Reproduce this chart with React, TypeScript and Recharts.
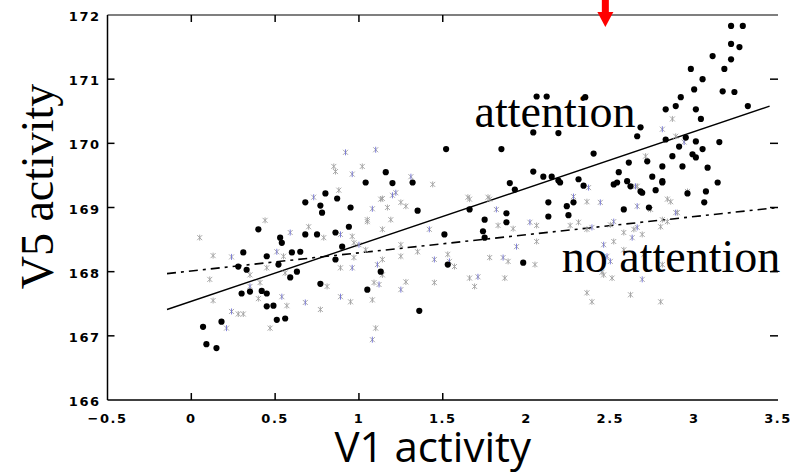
import React from 'react';
import {
  ScatterChart,
  Scatter,
  XAxis,
  YAxis,
  ReferenceLine,
  ReferenceDot,
} from 'recharts';

// ---- data ----
const xTicks = [-0.5, 0, 0.5, 1, 1.5, 2, 2.5, 3, 3.5];
const xTickLabels = ['\u22120.5', '0', '0.5', '1', '1.5', '2', '2.5', '3', '3.5'];
const yTicks = [166, 167, 168, 169, 170, 171, 172];
const xInnerTicks = [0, 0.5, 1, 1.5];
const yInnerTicks = [167, 168, 169, 170, 171];

const attentionPts: [number, number][] = [
  [0.07, 167.14], [0.09, 166.87], [0.15, 166.81], [0.18, 167.22], [0.31, 168.3], [0.3, 167.66],
  [0.35, 167.69], [0.42, 167.7], [0.45, 167.66], [0.45, 167.46], [0.49, 167.47], [0.51, 167.25],
  [0.56, 167.27], [0.45, 168.24], [0.52, 168.11], [0.54, 168.45], [0.6, 168.3], [0.65, 168.31],
  [0.63, 168.0], [0.59, 167.91], [0.28, 168.08], [0.33, 168.03], [0.77, 167.81], [0.9, 168.39],
  [0.86, 168.19], [1.05, 167.72], [0.4, 168.66], [0.53, 168.53], [0.68, 169.08], [0.68, 168.58],
  [0.75, 168.58], [0.77, 169.03], [0.78, 168.92], [0.8, 169.22], [0.87, 169.14], [0.86, 168.61],
  [0.95, 169.0], [0.94, 168.7], [1.04, 169.39], [1.16, 169.55], [1.2, 169.38], [1.52, 169.91],
  [1.85, 169.91], [1.32, 169.39], [1.35, 168.95], [1.66, 168.97], [1.75, 168.81], [1.74, 168.63],
  [1.88, 168.91], [1.88, 168.77], [1.9, 169.38], [1.93, 169.28], [2.04, 169.56], [2.1, 169.48],
  [2.15, 169.48], [2.19, 169.42], [2.2, 169.39], [2.13, 169.08], [2.13, 168.86], [2.24, 169.02],
  [2.25, 168.88], [2.28, 169.08], [2.31, 169.44], [2.34, 169.34], [2.04, 170.17], [2.19, 170.16],
  [1.75, 168.53], [1.51, 168.58], [2.4, 169.84], [2.61, 169.7], [2.55, 169.55], [2.66, 170.11],
  [2.83, 170.06], [2.72, 169.72], [2.81, 169.64], [2.87, 169.8], [2.75, 169.48], [2.81, 169.41],
  [2.77, 169.27], [2.68, 169.25], [2.93, 169.64], [2.99, 169.83], [3.01, 169.78], [3.01, 170.03],
  [3.08, 169.62], [3.07, 169.25], [3.06, 169.08], [3.14, 169.39], [3.15, 170.02], [2.96, 169.22],
  [2.62, 169.33], [2.58, 168.97], [2.73, 169.0], [2.54, 169.39], [2.83, 170.53], [2.89, 170.58],
  [2.92, 170.72], [3.01, 170.53], [3.04, 170.38], [3.0, 170.84], [3.05, 171.0], [2.98, 171.16],
  [3.11, 171.36], [3.18, 171.16], [3.22, 171.31], [3.22, 171.55], [3.27, 171.5], [3.22, 171.83],
  [3.29, 171.83], [3.17, 170.81], [3.24, 170.8], [3.32, 170.58], [2.95, 170.09], [2.91, 169.95],
  [2.52, 169.36], [2.6, 169.41], [2.69, 169.23], [2.81, 169.39], [3.05, 169.91], [1.36, 167.39],
  [1.53, 168.11], [1.98, 168.14], [1.13, 168.0], [2.06, 170.73], [2.12, 170.73], [2.35, 170.72],
  [2.68, 170.25],
];

const noAttentionPts: [number, number][] = [
  [0.92, 169.86], [0.85, 169.64], [0.86, 169.56], [0.96, 169.52], [1.02, 169.64], [0.88, 169.27],
  [0.73, 169.16], [0.44, 168.8], [0.05, 168.53], [0.59, 168.61], [0.7, 168.7], [0.79, 168.53],
  [0.89, 168.58], [0.96, 168.55], [1.05, 168.81], [1.1, 169.9], [1.13, 169.13], [1.17, 169.0],
  [1.22, 169.23], [1.05, 168.78], [0.13, 168.25], [0.24, 168.23], [0.11, 167.88], [0.13, 167.55],
  [0.24, 167.38], [0.28, 167.34], [0.31, 167.34], [0.21, 167.12], [0.47, 167.12], [0.35, 167.95],
  [0.35, 167.77], [0.41, 167.83], [0.4, 167.58], [0.51, 168.31], [0.55, 168.24], [0.45, 168.06],
  [0.54, 167.61], [0.57, 167.47], [0.56, 167.98], [0.68, 167.52], [0.77, 167.41], [0.81, 167.77],
  [0.89, 167.61], [0.95, 167.53], [0.89, 168.06], [0.96, 168.06], [0.97, 168.22], [0.97, 168.45],
  [1.0, 168.42], [1.04, 168.34], [1.14, 168.19], [1.11, 168.11], [1.14, 167.95], [1.09, 167.83],
  [1.12, 167.8], [1.08, 167.56], [1.1, 167.12], [1.08, 166.94], [1.25, 168.42], [1.25, 168.24],
  [1.25, 167.72], [1.28, 167.84], [1.35, 168.31], [1.45, 168.19], [1.45, 167.83], [1.53, 168.27],
  [1.54, 168.16], [1.57, 168.08], [1.66, 167.9], [1.71, 167.92], [1.69, 167.77], [1.78, 168.22],
  [1.86, 168.22], [1.89, 168.16], [1.87, 167.9], [1.94, 168.39], [2.05, 168.11], [2.06, 168.47],
  [1.31, 169.48], [1.44, 169.36], [1.14, 169.14], [1.2, 169.19], [1.25, 169.08], [1.28, 169.02],
  [1.08, 168.98], [1.19, 168.81], [1.14, 168.66], [1.42, 168.66], [1.65, 169.16], [1.77, 169.16],
  [1.82, 168.97], [1.83, 168.72], [1.92, 168.67], [2.02, 168.77], [2.06, 168.72], [2.26, 168.72],
  [2.28, 169.17], [2.31, 168.77], [2.36, 169.09], [2.37, 169.31], [1.66, 169.13], [1.78, 169.13],
  [2.44, 169.08], [2.66, 169.33], [2.71, 169.8], [2.81, 170.22], [2.87, 170.38], [2.89, 170.11],
  [2.94, 170.02], [2.96, 169.25], [2.84, 169.13], [2.66, 169.02], [2.9, 168.92], [2.84, 168.78],
  [2.52, 168.78], [2.64, 168.66], [2.36, 168.66], [2.65, 169.33], [2.86, 169.09], [2.74, 168.97],
  [2.89, 168.92], [2.81, 168.81], [2.8, 168.7], [2.66, 168.69], [2.58, 168.61], [2.5, 168.73],
  [2.46, 168.42], [2.52, 168.47], [2.58, 168.34], [2.63, 168.53], [2.69, 168.58], [2.7, 168.27],
  [2.5, 168.16], [2.46, 167.95], [2.51, 167.9], [2.69, 167.88], [2.62, 167.64], [2.8, 167.53],
  [2.39, 168.69], [2.39, 167.53], [2.36, 167.67], [2.48, 168.24], [2.45, 167.99], [2.81, 168.11],
];

// regression lines (endpoints)
const attentionLine = [
  { x: -0.145, y: 167.41 },
  { x: 3.45, y: 170.58 },
];
const noAttentionLine = [
  { x: -0.145, y: 167.97 },
  { x: 3.5, y: 169.0 },
];

// annotations
const arrowAt = { x: 2.47, y: 172 };
const attentionLabel = { x: 1.69, y: 170.25, text: 'attention' };
const noAttentionLabel = { x: 2.21, y: 168.0, text: 'no attention' };

const attentionData = attentionPts.map(([x, y]) => ({ x, y }));
const noAttentionData = noAttentionPts.map(([x, y]) => ({ x, y }));

const tickFont = {
  fontFamily: 'DejaVu Sans, sans-serif',
  fontWeight: 700 as const,
  fontSize: 13,
  fill: '#000',
  letterSpacing: 1.5,
};

const LeftTick = (props: any) => {
  const { x, y, payload } = props;
  return (
    <text x={x - 7} y={y + 6} textAnchor="end" {...tickFont}>
      {payload.value}
    </text>
  );
};

const BottomTick = (props: any) => {
  const { x, y, payload } = props;
  const i = xTicks.indexOf(payload.value);
  return (
    <text x={x} y={y + 23} textAnchor="middle" {...tickFont}>
      {i >= 0 ? xTickLabels[i] : payload.value}
    </text>
  );
};

// short inward tick marks at both ends of a vertical reference line
const VTickShape = (props: any) => {
  const { x1, y1, y2 } = props;
  if (x1 == null || y1 == null || y2 == null) return null;
  const top = Math.min(y1, y2);
  const bot = Math.max(y1, y2);
  return (
    <g>
      <line x1={x1} y1={top} x2={x1} y2={top + 7} stroke="#000" strokeWidth={1.5} />
      <line x1={x1} y1={bot} x2={x1} y2={bot - 7} stroke="#000" strokeWidth={1.5} />
    </g>
  );
};

// short inward tick marks at both ends of a horizontal reference line
const HTickShape = (props: any) => {
  const { x1, x2, y1 } = props;
  if (x1 == null || x2 == null || y1 == null) return null;
  const l = Math.min(x1, x2);
  const r = Math.max(x1, x2);
  return (
    <g>
      <line x1={l} y1={y1} x2={l + 7} y2={y1} stroke="#000" strokeWidth={1.5} />
      <line x1={r - 8} y1={y1} x2={r} y2={y1} stroke="#000" strokeWidth={1.5} />
    </g>
  );
};

const BlackDot = (props: any) => {
  const { cx, cy } = props;
  if (cx == null || cy == null) return null;
  return <circle cx={cx} cy={cy} r={3.1} fill="#000" />;
};

const GrayStar = (props: any) => {
  const { cx, cy, index } = props;
  if (cx == null || cy == null) return null;
  const blue = (index ?? 0) % 3 === 0;
  const c = '#a0a0a0';
  return (
    <g strokeWidth={0.9} fill="none">
      <line x1={cx - 2.5} y1={cy - 2.5} x2={cx + 2.5} y2={cy + 2.5} stroke={c} />
      <line x1={cx - 2.5} y1={cy + 2.5} x2={cx + 2.5} y2={cy - 2.5} stroke={c} />
      <line x1={cx} y1={cy - 3} x2={cx} y2={cy + 3} stroke={blue ? '#7070d8' : c} />
    </g>
  );
};

const Arrow = (props: any) => {
  const { cx, cy } = props;
  if (cx == null || cy == null) return null;
  return (
    <g>
      <rect x={cx - 3.5} y={cy - 16} width={7} height={14} fill="#ff0000" />
      <polygon points={`${cx - 8},${cy - 3} ${cx + 8},${cy - 3} ${cx},${cy + 12}`} fill="#ff0000" />
    </g>
  );
};

const makeLabel = (text: string) => (props: any) => {
  const { cx, cy } = props;
  if (cx == null || cy == null) return null;
  return (
    <text x={cx} y={cy} fontFamily="Liberation Serif, Times New Roman, serif" fontSize={46} fill="#000">
      {text}
    </text>
  );
};

const YTitle = (props: any) => {
  const vb = props.viewBox || { x: 0, y: 15, height: 385 };
  const cx = vb.x + 53;
  const cy = vb.y + vb.height / 2 - 21;
  return (
    <text
      x={cx}
      y={cy}
      transform={`rotate(-90, ${cx}, ${cy})`}
      textAnchor="middle"
      fontFamily="Liberation Serif, Times New Roman, serif"
      fontSize={46}
      fill="#000"
    >
      V5 activity
    </text>
  );
};

const XTitle = (props: any) => {
  const vb = props.viewBox || { x: 107.5, y: 400, width: 670.5 };
  const cx = vb.x + vb.width / 2 - 10;
  return (
    <text x={cx} y={462} textAnchor="middle" fontFamily="Open Sans, sans-serif" fontSize={42} fill="#000">
      V1 activity
    </text>
  );
};

export default function App() {
  return (
    <div style={{ position: 'absolute', left: 0, top: 0, width: 798, height: 473, background: '#fff' }}>
      <ScatterChart width={798} height={473} margin={{ top: 15, right: 20, bottom: 43, left: 0 }}>
        <XAxis
          type="number"
          dataKey="x"
          domain={[-0.5, 3.5]}
          ticks={xTicks}
          interval={0}
          height={30}
          tickSize={0}
          tickMargin={0}
          tickLine={false}
          axisLine={{ stroke: '#000', strokeWidth: 1.5 }}
          tick={<BottomTick />}
          allowDataOverflow
          label={<XTitle />}
        />
        <YAxis
          type="number"
          dataKey="y"
          domain={[166, 172]}
          ticks={yTicks}
          interval={0}
          width={107.5}
          tickSize={0}
          tickMargin={0}
          tickLine={false}
          axisLine={{ stroke: '#000', strokeWidth: 1.5 }}
          tick={<LeftTick />}
          allowDataOverflow
          label={<YTitle />}
        />
        {/* top border */}
        <ReferenceLine y={172} stroke="#555" strokeWidth={1.5} />
        {xInnerTicks.map((t) => (
          <ReferenceLine key={`vx${t}`} x={t} shape={<VTickShape />} />
        ))}
        {yInnerTicks.map((t) => (
          <ReferenceLine key={`hy${t}`} y={t} shape={<HTickShape />} />
        ))}
        <Scatter data={noAttentionData} shape={<GrayStar />} isAnimationActive={false} />
        <Scatter data={attentionData} shape={<BlackDot />} isAnimationActive={false} />
        <ReferenceLine segment={attentionLine} stroke="#000" strokeWidth={1.4} ifOverflow="extendDomain" />
        <ReferenceLine
          segment={noAttentionLine}
          stroke="#000"
          strokeWidth={1.6}
          strokeDasharray="9 5 3 5"
          ifOverflow="extendDomain"
        />
        <ReferenceDot x={attentionLabel.x} y={attentionLabel.y} r={0} shape={makeLabel(attentionLabel.text)} />
        <ReferenceDot x={noAttentionLabel.x} y={noAttentionLabel.y} r={0} shape={makeLabel(noAttentionLabel.text)} />
        <ReferenceDot x={arrowAt.x} y={arrowAt.y} r={0} shape={<Arrow />} ifOverflow="visible" />
      </ScatterChart>
    </div>
  );
}
